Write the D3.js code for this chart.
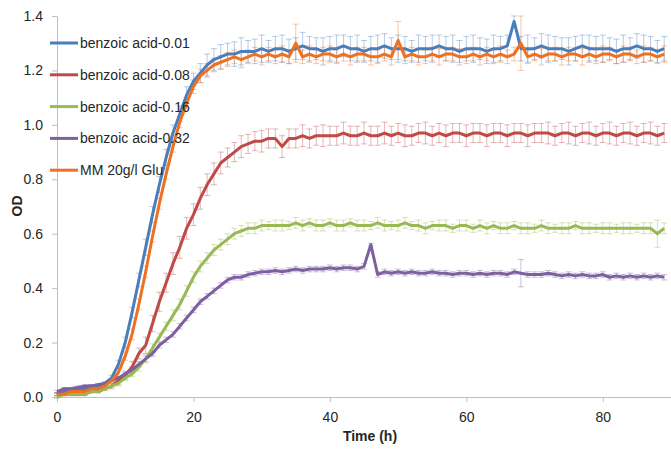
<!DOCTYPE html>
<html lang="en">
<head>
<meta charset="UTF-8">
<script src="https://d3js.org/d3.v7.min.js"></script>
<title>Growth curves</title>
<style>
body {
    margin: 0;
    background: white;
}
svg {
    display: block;
    font-family: "Liberation Sans", Arial, sans-serif;
}
.axis path, .axis line {
    stroke: #bfbfbf;
}
.axis text {
    font-size: 14px;
    fill: #262626;
}
.axis-title {
    font-size: 14px;
    font-weight: bold;
    fill: #262626;
}
.legend text {
    font-size: 14px;
    fill: #262626;
}
</style>
</head>
<body>
<svg id="canvas" width="671" height="450"></svg>
<script>
    // time points (h)
    let hours = [0,1,2,3,4,5,6,7,8,9,10,11,12,13,14,15,16,17,18,19,20,21,22,23,24,25,26,27,28,29,
        30,31,32,33,34,35,36,37,38,39,40,41,42,43,44,45,46,47,48,49,50,51,52,53,54,55,56,57,58,59,
        60,61,62,63,64,65,66,67,68,69,70,71,72,73,74,75,76,77,78,79,80,81,82,83,84,85,86,87,88,89];

    let seriesNames = ['benzoic acid-0.01', 'benzoic acid-0.08', 'benzoic acid-0.16', 'benzoic acid-0.32', 'MM 20g/l Glu'];
    let seriesColors = ['#4a7ebb', '#be4b48', '#98b954', '#7d60a0', '#ee7020'];

    // OD values
    let od001 = [.01,.02,.02,.03,.03,.04,.04,.05,.07,.12,.20,.31,.43,.55,.67,.78,.88,.97,1.04,1.11,
        1.16,1.19,1.22,1.24,1.25,1.26,1.26,1.27,1.27,1.27,1.28,1.27,1.28,1.28,1.27,1.28,1.29,1.28,1.28,1.27,
        1.28,1.28,1.29,1.28,1.28,1.27,1.28,1.28,1.29,1.28,1.28,1.28,1.27,1.28,1.28,1.28,1.29,1.28,1.28,1.27,
        1.28,1.28,1.28,1.27,1.28,1.28,1.29,1.38,1.28,1.28,1.28,1.29,1.28,1.28,1.28,1.27,1.28,1.29,1.28,1.28,
        1.28,1.28,1.27,1.28,1.28,1.29,1.28,1.28,1.27,1.28];
    let od008 = [.01,.01,.01,.01,.01,.02,.02,.03,.04,.06,.08,.11,.16,.19,.27,.35,.42,.49,.55,.62,
        .67,.73,.78,.82,.86,.88,.90,.92,.93,.94,.94,.95,.95,.92,.95,.95,.96,.95,.96,.96,
        .96,.96,.97,.96,.96,.97,.96,.96,.97,.96,.97,.96,.96,.97,.97,.96,.97,.96,.97,.97,
        .96,.97,.97,.96,.97,.97,.96,.97,.97,.96,.97,.97,.97,.96,.97,.97,.96,.97,.97,.96,
        .97,.97,.96,.97,.97,.96,.97,.97,.96,.97];
    let od016 = [.00,.01,.01,.01,.01,.02,.02,.03,.04,.05,.07,.085,.11,.14,.18,.22,.26,.30,.34,.39,
        .44,.48,.51,.54,.56,.58,.60,.61,.62,.62,.63,.63,.63,.63,.63,.64,.63,.64,.63,.63,
        .64,.63,.63,.64,.63,.63,.63,.64,.63,.63,.63,.64,.63,.63,.62,.63,.63,.63,.62,.63,
        .63,.62,.63,.62,.63,.62,.62,.63,.62,.62,.62,.63,.62,.62,.62,.62,.63,.62,.62,.62,
        .62,.62,.62,.62,.62,.62,.62,.62,.60,.62];
    let od032 = [.02,.03,.03,.035,.04,.04,.045,.05,.06,.07,.085,.10,.12,.14,.16,.19,.21,.23,.26,.29,
        .32,.35,.37,.39,.41,.43,.44,.44,.45,.455,.46,.46,.465,.46,.465,.47,.465,.47,.47,.47,
        .475,.47,.475,.475,.47,.48,.56,.45,.46,.455,.46,.455,.46,.455,.455,.46,.455,.455,.45,.455,
        .455,.45,.455,.45,.455,.455,.45,.46,.455,.45,.45,.45,.455,.45,.445,.45,.445,.45,.445,.445,
        .45,.44,.445,.44,.445,.44,.445,.44,.445,.44];
    let odGlu = [.01,.01,.02,.02,.02,.03,.03,.04,.06,.09,.15,.23,.34,.46,.59,.71,.82,.92,1.01,1.08,
        1.14,1.18,1.20,1.22,1.23,1.24,1.25,1.24,1.25,1.26,1.25,1.26,1.25,1.26,1.25,1.30,1.25,1.26,1.25,1.26,
        1.26,1.25,1.26,1.25,1.26,1.26,1.25,1.25,1.26,1.25,1.31,1.25,1.26,1.25,1.25,1.26,1.25,1.26,1.26,1.25,
        1.25,1.26,1.25,1.26,1.25,1.26,1.25,1.26,1.30,1.25,1.26,1.25,1.26,1.26,1.25,1.26,1.26,1.25,1.26,1.25,
        1.26,1.26,1.25,1.26,1.26,1.25,1.26,1.26,1.25,1.26];

    // standard deviations (error bars)
    let sd001 = [.005,.005,.005,.005,.005,.005,.005,.005,.01,.015,.02,.02,.025,.03,.03,.03,.03,.03,.03,.03,
        .03,.035,.04,.04,.045,.04,.045,.05,.04,.045,.05,.04,.045,.05,.045,.04,.05,.045,.04,.05,
        .045,.05,.04,.045,.05,.04,.045,.05,.045,.04,.05,.045,.04,.05,.045,.05,.04,.045,.05,.04,
        .045,.05,.04,.045,.05,.045,.04,.02,.045,.05,.04,.045,.05,.045,.04,.05,.045,.04,.05,.045,
        .05,.04,.045,.05,.04,.045,.05,.045,.04,.045];
    let sd008 = [.005,.005,.005,.005,.005,.005,.005,.005,.01,.015,.015,.02,.02,.03,.03,.035,.035,.04,.04,.04,
        .04,.04,.04,.04,.04,.035,.035,.04,.035,.035,.04,.035,.035,.04,.035,.035,.04,.035,.035,.04,
        .035,.035,.04,.035,.035,.04,.035,.035,.04,.035,.035,.04,.035,.035,.04,.035,.035,.04,.035,.035,
        .04,.035,.035,.04,.035,.035,.04,.035,.035,.04,.035,.035,.04,.035,.035,.04,.035,.035,.04,.035,
        .035,.04,.035,.035,.04,.035,.035,.04,.035,.035];
    let sd016 = [.005,.005,.005,.005,.005,.005,.005,.005,.005,.01,.01,.01,.015,.015,.015,.015,.015,.02,.02,.02,
        .02,.02,.02,.02,.02,.02,.02,.02,.02,.02,.02,.015,.02,.02,.015,.02,.02,.015,.02,.02,
        .015,.02,.02,.015,.02,.02,.015,.02,.02,.015,.02,.02,.015,.02,.02,.015,.02,.02,.015,.02,
        .02,.015,.02,.02,.015,.02,.02,.015,.02,.02,.015,.02,.02,.015,.02,.02,.015,.02,.02,.015,
        .02,.02,.015,.02,.02,.015,.02,.02,.05,.02];
    let sd032 = [.005,.005,.005,.005,.005,.005,.005,.005,.005,.005,.005,.01,.01,.01,.01,.01,.01,.01,.01,.01,
        .01,.01,.01,.01,.01,.01,.01,.01,.01,.01,.01,.01,.01,.01,.01,.01,.01,.01,.01,.01,
        .01,.01,.01,.01,.01,.01,.005,.01,.01,.01,.01,.01,.01,.01,.01,.01,.01,.01,.01,.01,
        .01,.01,.01,.01,.01,.01,.01,.01,.05,.01,.01,.01,.01,.01,.01,.01,.01,.01,.01,.01,
        .01,.01,.01,.01,.01,.01,.01,.01,.01,.01];
    let sdGlu = [.005,.005,.005,.005,.005,.005,.005,.005,.005,.015,.015,.02,.02,.02,.02,.02,.02,.02,.02,.02,
        .025,.025,.025,.025,.025,.025,.025,.03,.025,.025,.03,.025,.025,.03,.025,.07,.025,.03,.025,.025,
        .03,.025,.025,.03,.025,.025,.03,.025,.025,.03,.07,.025,.025,.03,.025,.025,.03,.025,.025,.03,
        .025,.025,.03,.025,.025,.03,.025,.025,.10,.025,.025,.03,.025,.025,.03,.025,.025,.03,.025,.025,
        .03,.025,.025,.03,.025,.025,.03,.025,.025,.03];

    let yTicks = [0, 0.2, 0.4, 0.6, 0.8, 1.0, 1.2, 1.4];
    let xTicks = [0, 20, 40, 60, 80];

    let seriesValues = [od001, od008, od016, od032, odGlu];
    let seriesSd = [sd001, sd008, sd016, sd032, sdGlu];

    let canvas = d3.select('#canvas');

    let xScale = d3.scaleLinear().domain([0, 90]).range([57, 671]);
    let yScale = d3.scaleLinear().domain([0, 1.4]).range([397, 16]);

    let series = seriesNames.map((name, i) => {
        return {
            name: name,
            color: seriesColors[i],
            points: hours.map((t, j) => ({ t: t, v: seriesValues[i][j], sd: seriesSd[i][j] }))
        };
    });

    // axes
    let yAxis = d3.axisLeft(yScale)
        .tickValues(yTicks)
        .tickFormat(d3.format('.1f'))
        .tickSizeInner(5)
        .tickSizeOuter(0)
        .tickPadding(9);
    canvas.append('g')
        .attr('class', 'axis')
        .attr('transform', 'translate(57,0)')
        .call(yAxis);

    let xAxis = d3.axisBottom(xScale)
        .tickValues(xTicks)
        .tickSizeInner(5)
        .tickSizeOuter(0)
        .tickPadding(10);
    canvas.append('g')
        .attr('class', 'axis')
        .attr('transform', 'translate(0,397)')
        .call(xAxis);

    canvas.selectAll('.axis text').attr('font-family', null);

    canvas.append('text')
        .attr('class', 'axis-title')
        .attr('x', 370)
        .attr('y', 441)
        .attr('text-anchor', 'middle')
        .text('Time (h)');

    canvas.append('text')
        .attr('class', 'axis-title')
        .attr('transform', 'translate(22,206) rotate(-90)')
        .attr('text-anchor', 'middle')
        .text('OD');

    // error bars
    let cap = 3;
    series.forEach((s) => {
        canvas.append('g')
            .selectAll('path')
            .data(s.points)
            .enter()
            .append('path')
            .attr('d', (p) => {
                let x = xScale(p.t);
                let y1 = yScale(p.v + p.sd);
                let y2 = yScale(p.v - p.sd);
                return 'M' + x + ',' + y1 + 'V' + y2 +
                    'M' + (x - cap) + ',' + y1 + 'H' + (x + cap) +
                    'M' + (x - cap) + ',' + y2 + 'H' + (x + cap);
            })
            .attr('stroke', s.color)
            .attr('stroke-opacity', 0.4)
            .attr('stroke-width', 1)
            .attr('fill', 'none');
    });

    // lines
    let line = d3.line()
        .x((p) => xScale(p.t))
        .y((p) => yScale(p.v));

    series.forEach((s) => {
        canvas.append('path')
            .datum(s.points)
            .attr('d', line)
            .attr('fill', 'none')
            .attr('stroke', s.color)
            .attr('stroke-width', 3)
            .attr('stroke-linejoin', 'round');
    });

    // legend
    let legend = canvas.append('g').attr('class', 'legend');
    let item = legend.selectAll('g')
        .data(series)
        .enter()
        .append('g')
        .attr('transform', (s, i) => 'translate(50,' + (43 + i * 31.8) + ')');

    item.append('line')
        .attr('x1', 0)
        .attr('x2', 28)
        .attr('stroke', (s) => s.color)
        .attr('stroke-width', 3);

    item.append('text')
        .attr('x', 30)
        .attr('y', 5)
        .text((s) => s.name);
</script>
</body>
</html>
